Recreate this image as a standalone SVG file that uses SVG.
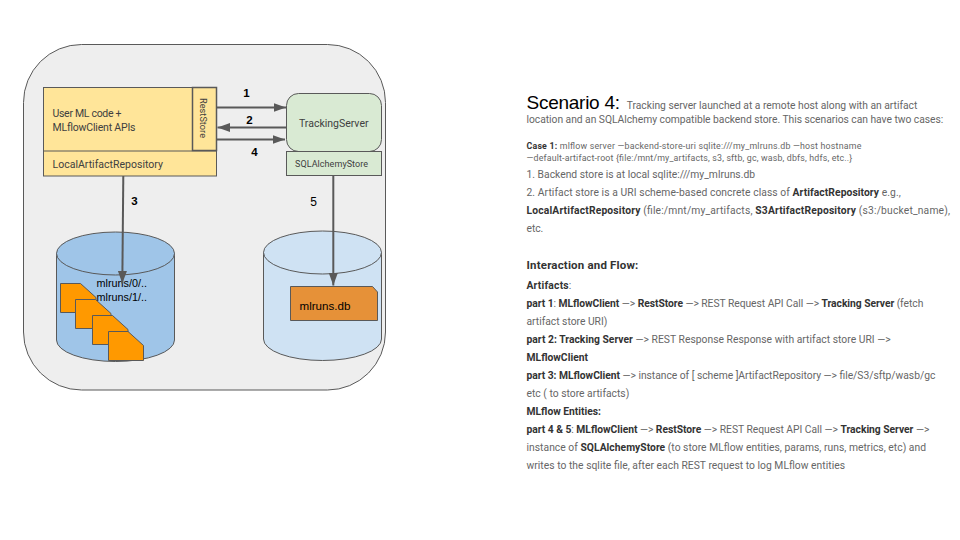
<svg xmlns="http://www.w3.org/2000/svg" width="960" height="540" viewBox="0 0 960 540">
<defs>
<style>
.s{stroke:#595959;stroke-width:1}
.lab{font-family:Roboto,"Liberation Sans",sans-serif;fill:#404040}
.ar{font-family:"Liberation Sans",Arial,sans-serif;fill:#000}
.num{font-family:"Liberation Sans",Arial,sans-serif;font-size:11.5px;font-weight:700;fill:#000;text-anchor:middle}
.c{stroke:#595959;stroke-width:2;fill:none;marker-end:url(#ah)}
.t{font-family:Roboto,"Liberation Sans",sans-serif;fill:#666;font-size:10.3px}
.t .b,.b{font-weight:700;fill:#333}
.doc{fill:#ff9900;stroke:#595959;stroke-width:1}
</style>
<marker id="ah" markerUnits="userSpaceOnUse" markerWidth="14" markerHeight="10" refX="12.500" refY="4.500" orient="auto"><path d="M0 0L12.500 4.500L0 9Z" fill="#595959"/></marker>
</defs>
<rect width="960" height="540" fill="#fff"/>
<rect id="container" x="23.5" y="44.5" width="362" height="345.5" rx="58" ry="58" fill="#eeeeee" stroke="#595959" stroke-width="1"/>

<g id="client">
<rect x="43.5" y="87.5" width="173" height="88.500" fill="#ffe599" class="s"/>
<line x1="43.500" y1="151" x2="216.500" y2="151" class="s"/>
<text class="lab" font-size="10.500" x="52.500" y="117" textLength="69" lengthAdjust="spacing">User ML code +</text>
<text class="lab" font-size="10.500" x="52.500" y="130.500" textLength="83" lengthAdjust="spacing">MLflowClient APIs</text>
</g>
<g id="reststore">
<rect x="192.500" y="87.500" width="24" height="63" fill="#ffe599" stroke="#595959" stroke-width="1.500"/>
<text class="lab" font-size="9.200" transform="translate(200.300 98) rotate(90)" textLength="40" lengthAdjust="spacing">RestStore</text>
</g>
<g id="local-artifact-repository">
<text class="lab" font-size="10.500" x="52.500" y="167.500" textLength="110.500" lengthAdjust="spacing">LocalArtifactRepository</text>
</g>
<g id="tracking-server">
<rect x="286.500" y="93.500" width="95" height="58" rx="12" ry="12" fill="#d9ead3" class="s"/>
<text class="lab" font-size="10.500" x="299" y="127" textLength="69.500" lengthAdjust="spacing">TrackingServer</text>
</g>
<g id="sqlalchemy-store">
<rect x="286.500" y="151.500" width="95" height="24" fill="#d9ead3" class="s"/>
<text class="lab" font-size="9" x="295" y="167.300" textLength="73" lengthAdjust="spacing">SQLAlchemyStore</text>
</g>

<g id="artifact-store">
<path d="M56.500 253.500V340A59 21.500 0 0 0 174.500 340V253.500Z" fill="#9fc5e8" class="s"/>
<ellipse cx="115.500" cy="253.500" rx="59" ry="21.500" fill="#9fc5e8" class="s"/>
<path class="doc" d="M60.500 283.500H80.500L96 297.500V312.500H60.500Z"/>
<path class="doc" d="M75.500 299.500H95.500L111 313.500V328.500H75.500Z"/>
<path class="doc" d="M92.500 315.500H112.500L128 329.500V344.500H92.500Z"/>
<path class="doc" d="M108.500 331.500H128L143.500 345.500V360.500H108.500Z"/>
<text class="ar" font-size="10.800" x="96.500" y="287.300" fill="#111">mlruns/0/..</text>
<text class="ar" font-size="10.800" x="96.500" y="300.800" fill="#111">mlruns/1/..</text>
</g>
<g id="backend-store">
<path d="M263.500 252.500V339A59 21.500 0 0 0 381.500 339V252.500Z" fill="#cfe2f3" class="s"/>
<ellipse cx="322.500" cy="252.500" rx="59" ry="21.500" fill="#cfe2f3" class="s"/>
<path d="M290.500 286.500H372.500L377.500 292V320.500H290.500Z" fill="#e69138" class="s"/>
<text class="ar" font-size="11.600" x="299.500" y="309.500" fill="#222">mlruns.db</text>
</g>

<g id="connectors">
<line class="c" x1="216.500" y1="107.500" x2="286" y2="107.500"/>
<line class="c" x1="286.500" y1="127.500" x2="217.500" y2="127.500"/>
<line class="c" x1="216.500" y1="139.500" x2="285" y2="139.500"/>
<line class="c" x1="123.300" y1="176" x2="122.300" y2="283.500"/>
<line class="c" x1="333.300" y1="176" x2="333.300" y2="285.500"/>
<text class="num" x="246.500" y="97">1</text>
<text class="num" x="249.500" y="124">2</text>
<text class="num" x="254.500" y="156">4</text>
<text class="num" x="134.500" y="205">3</text>
<text class="ar" font-size="12" text-anchor="middle" x="313.500" y="206">5</text>
</g>

<g id="description">
<text x="526.500" y="108.500" font-family="Liberation Sans,Arial,sans-serif" font-size="19" fill="#000" textLength="93.500" lengthAdjust="spacing">Scenario 4:</text>
<text class="t" x="626.700" y="108.700" textLength="290.600" lengthAdjust="spacing">Tracking server launched at a remote host along with an artifact</text>
<text class="t" x="526.500" y="123.300" textLength="416.800" lengthAdjust="spacing">location and an SQLAlchemy compatible backend store. This scenarios can have two cases:</text>
<text class="t" style="font-size:8.800px" x="526.500" y="148.800" textLength="334.800" lengthAdjust="spacing"><tspan class="b">Case 1:</tspan> mlflow server —backend-store-uri sqlite:///my_mlruns.db —host hostname</text>
<text class="t" style="font-size:8.800px" x="526.500" y="160.800" textLength="325.800" lengthAdjust="spacing">—default-artifact-root {file:/mnt/my_artifacts, s3, sftb, gc, wasb, dbfs, hdfs, etc..}</text>
<text class="t" x="526.500" y="177.600" textLength="228.500" lengthAdjust="spacing">1. Backend store is at local sqlite:///my_mlruns.db</text>
<text class="t" x="526.500" y="195.600" textLength="374.200" lengthAdjust="spacing">2. Artifact store is a URI scheme-based concrete class of <tspan class="b">ArtifactRepository</tspan> e.g.,</text>
<text class="t" x="526.500" y="213.600" textLength="423.500" lengthAdjust="spacing"><tspan class="b">LocalArtifactRepository</tspan> (file:/mnt/my_artifacts,  <tspan class="b">S3ArtifactRepository</tspan> (s3:/bucket_name),</text>
<text class="t" x="526.500" y="231.600" textLength="16.800" lengthAdjust="spacing">etc.</text>
<text class="t b" style="font-size:11.500px" x="526.500" y="268.600" textLength="111.800" lengthAdjust="spacing">Interaction and Flow:</text>
<text class="t" x="526.500" y="288.900" textLength="44.800" lengthAdjust="spacing"><tspan class="b">Artifacts</tspan>:</text>
<text class="t" x="526.500" y="306.600" textLength="396.800" lengthAdjust="spacing"><tspan class="b">part 1</tspan>: <tspan class="b">MLflowClient</tspan> —&gt; <tspan class="b">RestStore</tspan> —&gt; REST Request API Call —&gt; <tspan class="b">Tracking Server</tspan> (fetch</text>
<text class="t" x="526.500" y="324.600" textLength="80.800" lengthAdjust="spacing">artifact store URI)</text>
<text class="t" x="526.500" y="342.900" textLength="364.200" lengthAdjust="spacing"><tspan class="b">part 2: Tracking Server</tspan> —&gt; REST Response Response with artifact store URI —&gt;</text>
<text class="t b" x="526.500" y="360.900" textLength="61.500" lengthAdjust="spacing">MLflowClient</text>
<text class="t" x="526.500" y="378.600" textLength="408.800" lengthAdjust="spacing"><tspan class="b">part 3: MLflowClient</tspan> —&gt; instance of [ scheme ]ArtifactRepository —&gt; file/S3/sftp/wasb/gc</text>
<text class="t" x="526.500" y="396.600" textLength="102.800" lengthAdjust="spacing">etc ( to store artifacts)</text>
<text class="t b" x="526.500" y="414.600" textLength="74.500" lengthAdjust="spacing">MLflow Entities:</text>
<text class="t" x="526.500" y="432.600" textLength="402.800" lengthAdjust="spacing"><tspan class="b">part 4 &amp; 5</tspan>: <tspan class="b">MLflowClient</tspan> —&gt; <tspan class="b">RestStore</tspan> —&gt; REST Request API Call —&gt; <tspan class="b">Tracking Server</tspan> —&gt;</text>
<text class="t" x="526.500" y="450.600" textLength="399.500" lengthAdjust="spacing">instance of <tspan class="b">SQLAlchemyStore</tspan> (to store MLflow entities, params, runs, metrics, etc) and</text>
<text class="t" x="526.500" y="468.600" textLength="318.500" lengthAdjust="spacing">writes to the sqlite file, after each REST request to log MLflow entities</text>
</g>
</svg>
